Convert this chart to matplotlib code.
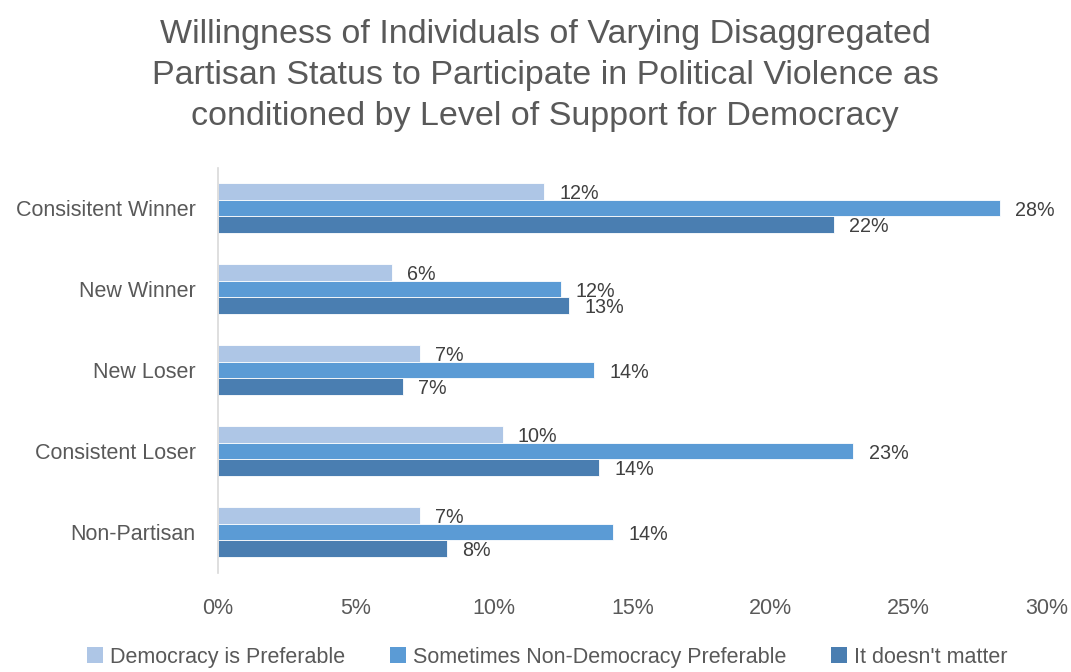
import matplotlib
matplotlib.use("Agg")
import matplotlib.pyplot as plt
import numpy as np
from matplotlib.patches import Patch

# Partisan groups, top to bottom
GROUPS = ["Consisitent Winner", "New Winner", "New Loser",
          "Consistent Loser", "Non-Partisan"]

# Share willing to participate (%), one list per democracy attitude
DEMOCRACY_PREF = [11.8, 6.3, 7.3, 10.3, 7.3]
SOMETIMES_NON  = [28.3, 12.4, 13.6, 23.0, 14.3]
DOESNT_MATTER  = [22.3, 12.7, 6.7, 13.8, 8.3]

SERIES = [
    ("Democracy is Preferable",             DEMOCRACY_PREF, "#AEC6E6"),
    ("Sometimes Non-Democracy Preferable",  SOMETIMES_NON,  "#5B9BD5"),
    ("It doesn't matter",                   DOESNT_MATTER,  "#4A7EB1"),
]

X_TICKS = [0, 5, 10, 15, 20, 25, 30]

TXT = "#595959"
plt.rcParams["font.family"] = ["Liberation Sans", "DejaVu Sans"]

fig = plt.figure(figsize=(10.71, 6.72), dpi=100)
ax = fig.add_axes([0.2035, 0.148, 0.7740, 0.6027])

y = np.arange(len(GROUPS), dtype=float)
h = 0.205
offsets = [-h, 0.0, h]

for (name, vals, color), off in zip(SERIES, offsets):
    bars = ax.barh(y + off, vals, height=h, color=color,
                   edgecolor="white", linewidth=0.6, label=name)
    for b, v in zip(bars, vals):
        ax.annotate(f"{v:.0f}%", (b.get_width(), b.get_y() + b.get_height() / 2),
                    xytext=(11, -1.5), textcoords="offset points",
                    ha="left", va="center", fontsize=14.2, color="#404040")

ax.set_xlim(0, 30)
ax.set_ylim(len(GROUPS) - 0.5, -0.5)
ax.set_yticks(y)
ax.set_yticklabels(GROUPS, fontsize=15.5, color=TXT)
ax.set_xticks(X_TICKS)
ax.set_xticklabels([f"{t}%" for t in X_TICKS], fontsize=15.5, color=TXT)
ax.tick_params(axis="both", length=0)
ax.tick_params(axis="x", pad=18)
ax.tick_params(axis="y", pad=16)

for side in ("top", "right", "bottom"):
    ax.spines[side].set_visible(False)
ax.spines["left"].set_color("#D9D9D9")
ax.spines["left"].set_linewidth(1.2)

fig.text(0.509, 0.888,
         "Willingness of Individuals of Varying Disaggregated\n"
         "Partisan Status to Participate in Political Violence as\n"
         "conditioned by Level of Support for Democracy",
         ha="center", va="center", fontsize=24.5, color=TXT, linespacing=1.42)

handles = [Patch(facecolor=c, edgecolor="none", label=n) for n, _, c in SERIES]
leg = fig.legend(handles=handles, loc="center", bbox_to_anchor=(0.511, 0.022),
                 ncols=3, frameon=False, fontsize=15.5,
                 handlelength=0.75, handleheight=0.75, handletextpad=0.3,
                 columnspacing=2.1)
for t in leg.get_texts():
    t.set_color(TXT)

fig.savefig("out.png", dpi=100, facecolor="white")
